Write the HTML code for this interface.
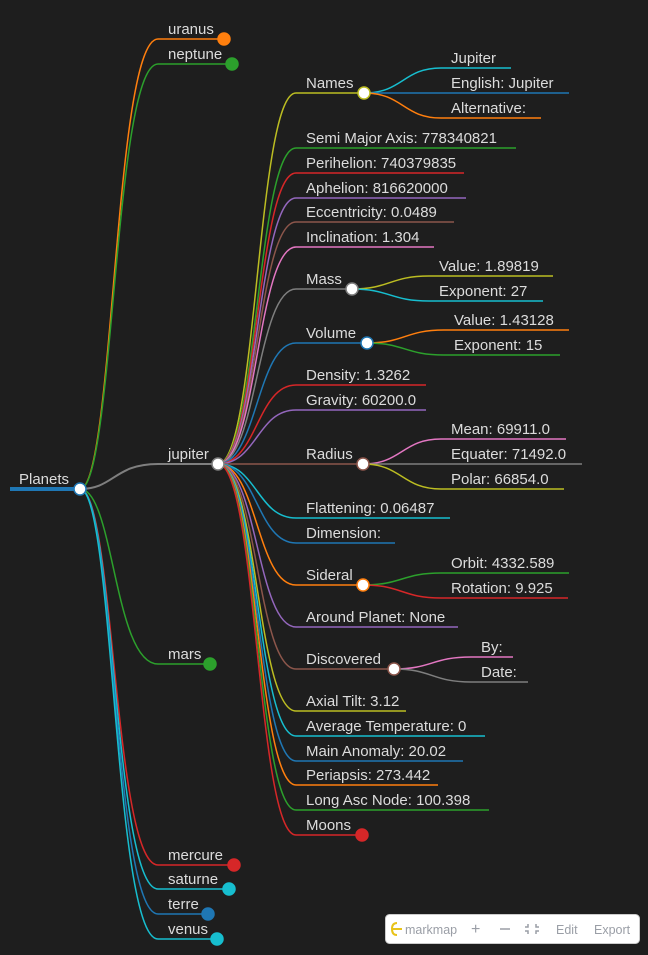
<!DOCTYPE html>
<html><head><meta charset="utf-8"><style>
html,body{margin:0;padding:0;background:#1e1e1e;}
svg{display:block}
text{font-family:"Liberation Sans",sans-serif;font-size:15px;fill:#dcdcdc}
.tb{font-size:12.5px;fill:#9a9ea6}
</style></head><body>
<svg width="648" height="955" viewBox="0 0 648 955" xmlns="http://www.w3.org/2000/svg">
<g fill="none" stroke-width="1.5">
<!-- root -->
<line x1="10" y1="489" x2="80" y2="489" stroke="#1f77b4" stroke-width="4"/>
<!-- level1 links -->
<path d="M80 489 C114 489,114 39,158 39 H224" stroke="#ff7f0e"/>
<path d="M80 489 C114 489,114 64,158 64 H232" stroke="#2ca02c"/>
<path d="M80 489 C114 489,114 464,158 464 H218" stroke="#7f7f7f" stroke-width="2"/>
<path d="M80 489 C114 489,114 664,158 664 H210" stroke="#2ca02c"/>
<path d="M80 489 C114 489,114 865,158 865 H234" stroke="#d62728"/>
<path d="M80 489 C114 489,114 889,158 889 H229" stroke="#17becf"/>
<path d="M80 489 C114 489,114 914,158 914 H208" stroke="#1f77b4"/>
<path d="M80 489 C114 489,114 939,158 939 H217" stroke="#17becf"/>
<!-- level2 links from jupiter (218,464) -->
<path d="M218 464 C257 464,257 93,296 93 H364" stroke="#bcbd22"/>
<path d="M218 464 C257 464,257 148,296 148 H516" stroke="#2ca02c"/>
<path d="M218 464 C257 464,257 173,296 173 H464" stroke="#d62728"/>
<path d="M218 464 C257 464,257 198,296 198 H466" stroke="#9467bd"/>
<path d="M218 464 C257 464,257 222,296 222 H454" stroke="#8c564b"/>
<path d="M218 464 C257 464,257 247,296 247 H434" stroke="#e377c2"/>
<path d="M218 464 C257 464,257 289,296 289 H352" stroke="#7f7f7f"/>
<path d="M218 464 C257 464,257 343,296 343 H367" stroke="#1f77b4"/>
<path d="M218 464 C257 464,257 385,296 385 H426" stroke="#d62728"/>
<path d="M218 464 C257 464,257 410,296 410 H426" stroke="#9467bd"/>
<path d="M218 464 H363" stroke="#8c564b"/>
<path d="M218 464 C257 464,257 518,296 518 H450" stroke="#17becf"/>
<path d="M218 464 C257 464,257 543,296 543 H395" stroke="#1f77b4"/>
<path d="M218 464 C257 464,257 585,296 585 H363" stroke="#ff7f0e"/>
<path d="M218 464 C257 464,257 627,296 627 H458" stroke="#9467bd"/>
<path d="M218 464 C257 464,257 669,296 669 H394" stroke="#8c564b"/>
<path d="M218 464 C257 464,257 711,296 711 H406" stroke="#bcbd22"/>
<path d="M218 464 C257 464,257 736,296 736 H485" stroke="#17becf"/>
<path d="M218 464 C257 464,257 761,296 761 H463" stroke="#1f77b4"/>
<path d="M218 464 C257 464,257 785,296 785 H438" stroke="#ff7f0e"/>
<path d="M218 464 C257 464,257 810,296 810 H489" stroke="#2ca02c"/>
<path d="M218 464 C257 464,257 835,296 835 H362" stroke="#d62728"/>
<!-- level3 -->
<path d="M364 93 C403 93,403 68,441 68 H511" stroke="#17becf"/>
<path d="M364 93 H569" stroke="#1f77b4"/>
<path d="M364 93 C403 93,403 118,441 118 H541" stroke="#ff7f0e"/>
<path d="M352 289 C390 289,390 276,429 276 H553" stroke="#bcbd22"/>
<path d="M352 289 C390 289,390 301,429 301 H543" stroke="#17becf"/>
<path d="M367 343 C405 343,405 330,444 330 H569" stroke="#ff7f0e"/>
<path d="M367 343 C405 343,405 355,444 355 H560" stroke="#2ca02c"/>
<path d="M363 464 C402 464,402 439,441 439 H566" stroke="#e377c2"/>
<path d="M363 464 H582" stroke="#7f7f7f"/>
<path d="M363 464 C402 464,402 489,441 489 H564" stroke="#bcbd22"/>
<path d="M363 585 C402 585,402 573,441 573 H569" stroke="#2ca02c"/>
<path d="M363 585 C402 585,402 598,441 598 H568" stroke="#d62728"/>
<path d="M394 669 C432 669,432 657,471 657 H513" stroke="#e377c2"/>
<path d="M394 669 C432 669,432 682,471 682 H528" stroke="#7f7f7f"/>
</g>
<!-- circles -->
<g stroke-width="1.5">
<circle cx="80" cy="489" r="6" fill="#fff" stroke="#1f77b4"/>
<circle cx="224" cy="39" r="6" fill="#ff7f0e" stroke="#ff7f0e"/>
<circle cx="232" cy="64" r="6" fill="#2ca02c" stroke="#2ca02c"/>
<circle cx="218" cy="464" r="6" fill="#fff" stroke="#7f7f7f"/>
<circle cx="210" cy="664" r="6" fill="#2ca02c" stroke="#2ca02c"/>
<circle cx="234" cy="865" r="6" fill="#d62728" stroke="#d62728"/>
<circle cx="229" cy="889" r="6" fill="#17becf" stroke="#17becf"/>
<circle cx="208" cy="914" r="6" fill="#1f77b4" stroke="#1f77b4"/>
<circle cx="217" cy="939" r="6" fill="#17becf" stroke="#17becf"/>
<circle cx="364" cy="93" r="6" fill="#fff" stroke="#bcbd22"/>
<circle cx="352" cy="289" r="6" fill="#fff" stroke="#7f7f7f"/>
<circle cx="367" cy="343" r="6" fill="#fff" stroke="#1f77b4"/>
<circle cx="363" cy="464" r="6" fill="#fff" stroke="#8c564b"/>
<circle cx="363" cy="585" r="6" fill="#fff" stroke="#ff7f0e"/>
<circle cx="394" cy="669" r="6" fill="#fff" stroke="#8c564b"/>
<circle cx="362" cy="835" r="6" fill="#d62728" stroke="#d62728"/>
</g>
<!-- text -->
<text x="19" y="484">Planets</text>
<text x="168" y="34">uranus</text>
<text x="168" y="59">neptune</text>
<text x="168" y="459">jupiter</text>
<text x="168" y="659">mars</text>
<text x="168" y="860">mercure</text>
<text x="168" y="884">saturne</text>
<text x="168" y="909">terre</text>
<text x="168" y="934">venus</text>
<text x="306" y="88">Names</text>
<text x="306" y="143">Semi Major Axis: 778340821</text>
<text x="306" y="168">Perihelion: 740379835</text>
<text x="306" y="193">Aphelion: 816620000</text>
<text x="306" y="217">Eccentricity: 0.0489</text>
<text x="306" y="242">Inclination: 1.304</text>
<text x="306" y="284">Mass</text>
<text x="306" y="338">Volume</text>
<text x="306" y="380">Density: 1.3262</text>
<text x="306" y="405">Gravity: 60200.0</text>
<text x="306" y="459">Radius</text>
<text x="306" y="513">Flattening: 0.06487</text>
<text x="306" y="538">Dimension:</text>
<text x="306" y="580">Sideral</text>
<text x="306" y="622">Around Planet: None</text>
<text x="306" y="664">Discovered</text>
<text x="306" y="706">Axial Tilt: 3.12</text>
<text x="306" y="731">Average Temperature: 0</text>
<text x="306" y="756">Main Anomaly: 20.02</text>
<text x="306" y="780">Periapsis: 273.442</text>
<text x="306" y="805">Long Asc Node: 100.398</text>
<text x="306" y="830">Moons</text>
<text x="451" y="63">Jupiter</text>
<text x="451" y="88">English: Jupiter</text>
<text x="451" y="113">Alternative:</text>
<text x="439" y="271">Value: 1.89819</text>
<text x="439" y="296">Exponent: 27</text>
<text x="454" y="325">Value: 1.43128</text>
<text x="454" y="350">Exponent: 15</text>
<text x="451" y="434">Mean: 69911.0</text>
<text x="451" y="459">Equater: 71492.0</text>
<text x="451" y="484">Polar: 66854.0</text>
<text x="451" y="568">Orbit: 4332.589</text>
<text x="451" y="593">Rotation: 9.925</text>
<text x="481" y="652">By:</text>
<text x="481" y="677">Date:</text>
<!-- toolbar -->
<rect x="385.5" y="914.5" width="254" height="29" rx="4" fill="#fff" stroke="#ccc"/>
<path d="M402 929 H392 M397 923 Q392 923 392 929 Q392 935 397 935" fill="none" stroke="#e8c31a" stroke-width="2"/>
<text class="tb" x="405" y="934">markmap</text>
<text class="tb" x="471" y="934" style="font-size:16px">+</text>
<line x1="500" y1="929" x2="510" y2="929" stroke="#9a9ea6" stroke-width="1.5"/>
<g stroke="#9a9ea6" stroke-width="1.5" fill="none"><path d="M528 924 v3 h-3 M536 924 v3 h3 M528 934 v-3 h-3 M536 934 v-3 h3"/></g>
<text class="tb" x="556" y="934">Edit</text>
<text class="tb" x="594" y="934">Export</text>
</svg>
</body></html>
